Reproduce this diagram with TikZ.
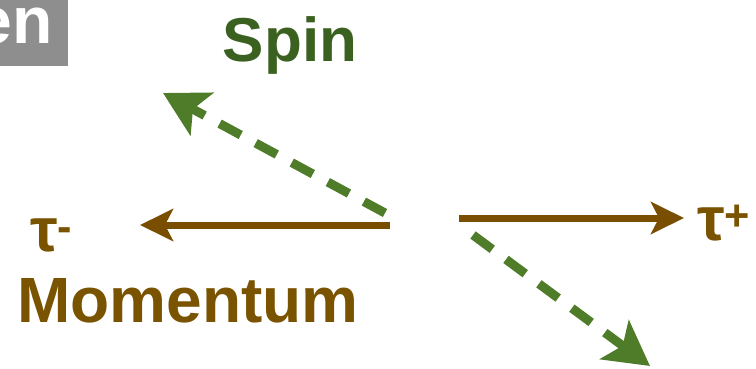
\documentclass[tikz,border=0pt]{standalone}
\usepackage{fontspec}
\setmainfont{Liberation Sans}
\usetikzlibrary{arrows.meta}
\definecolor{brownc}{HTML}{7A4E00}
\definecolor{greenc}{HTML}{4E7C29}
\definecolor{spinc}{HTML}{3B6120}
\definecolor{momc}{HTML}{7A5300}
\definecolor{boxgray}{HTML}{8E8E8E}
\tikzset{
  mom/.style={draw=brownc, line width=7pt, -{Stealth[length=33pt,width=32pt,inset=8pt]}},
  spn/.style={draw=greenc, line width=9pt, dash pattern=on 24pt off 17pt, -{Stealth[length=44pt,width=48pt,inset=10pt]}},
  lbl/.style={inner sep=0pt, anchor=base, font=\bfseries}
}
\begin{document}
\begin{tikzpicture}[x=1pt,y=-1pt]
\useasboundingbox (0,0) rectangle (756,368);
\begin{scope}
\clip (0,0) rectangle (68,66);
\fill[boxgray] (0,0) rectangle (68,66);
\node[lbl, text=white, anchor=base east, font=\bfseries\fontsize{66}{66}\selectfont] (en) at (53,43) {en};
\end{scope}
\node[lbl, text=spinc, font=\bfseries\fontsize{62}{62}\selectfont] (spin) at (290,61) {Spin};
\node[lbl, text=momc, font=\bfseries\fontsize{64}{64}\selectfont] (momentum) at (188,322) {Momentum};
\node[lbl, text=momc, anchor=base west, font=\bfseries\fontsize{62}{62}\selectfont] (taum) at (30,251) {τ\textsuperscript{-}};
\node[lbl, text=momc, anchor=base west, font=\bfseries\fontsize{62}{62}\selectfont] (taup) at (697,240) {τ\textsuperscript{+}};
\coordinate (lstart) at (390,225);
\coordinate (lend) at (140,225);
\coordinate (rstart) at (459,218);
\coordinate (rend) at (684,218);
\coordinate (ustart) at (385,213);
\coordinate (uend) at (163,93);
\coordinate (dstart) at (473,235);
\coordinate (dend) at (650,366);
\draw[mom] (lstart) -- (lend);
\draw[mom] (rstart) -- (rend);
\draw[spn] (ustart) -- (uend);
\draw[spn] (dstart) -- (dend);
\end{tikzpicture}
\end{document}
